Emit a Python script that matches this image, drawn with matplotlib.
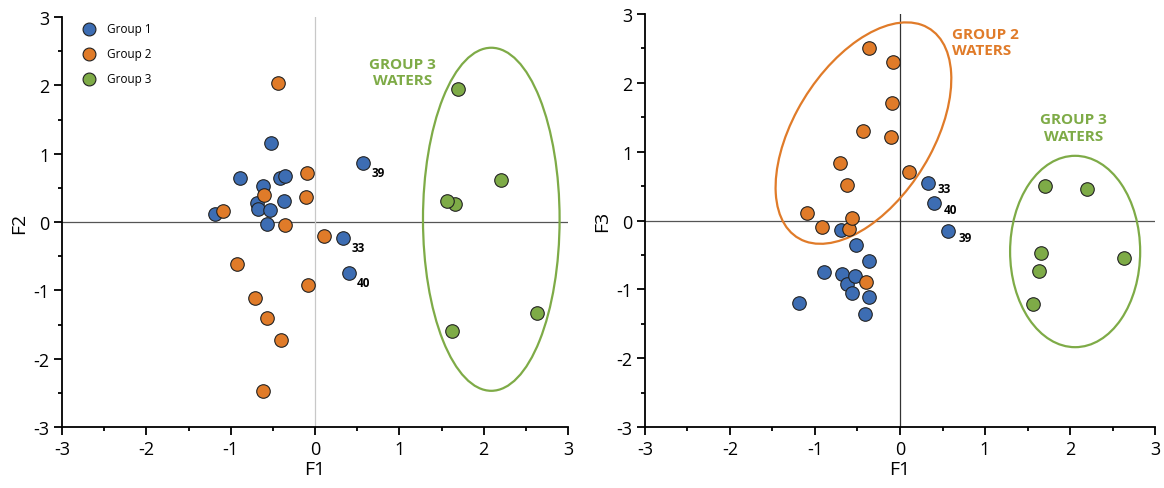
import matplotlib
matplotlib.use("Agg")
from matplotlib import pyplot as plt
from matplotlib.patches import Ellipse
from matplotlib.ticker import MultipleLocator

plt.rcParams['font.family'] = ['Open Sans', 'DejaVu Sans']
plt.rcParams['axes.unicode_minus'] = False

# factor scores per group (F1, F2, F3)
g1_f1 = [-1.19, -0.89, -0.69, -0.68, -0.62, -0.57, -0.53, -0.52, -0.41, -0.37, -0.36, 0.33, 0.40, 0.57]
g1_f2 = [0.12, 0.65, 0.28, 0.19, 0.53, -0.03, 0.18, 1.16, 0.64, 0.31, 0.67, -0.24, -0.75, 0.86]
g1_f3 = [-1.20, -0.75, -0.14, -0.78, -0.92, -1.06, -0.80, -0.36, -1.36, -1.11, -0.59, 0.55, 0.25, -0.15]

g2_f1 = [-1.09, -0.92, -0.71, -0.62, -0.60, -0.57, -0.44, -0.40, -0.36, -0.11, -0.10, -0.08, 0.11]
g2_f2 = [0.16, -0.62, -1.11, -2.47, 0.40, -1.40, 2.03, -1.73, -0.05, 0.37, 0.72, -0.92, -0.21]
g2_f3 = [0.11, -0.09, 0.84, 0.51, -0.13, 0.03, 1.30, -0.90, 2.50, 1.21, 1.71, 2.31, 0.70]

g3_f1 = [1.70, 2.20, 1.66, 2.63, 1.63, 1.57]
g3_f2 = [1.95, 0.62, 0.27, -1.33, -1.59, 0.31]
g3_f3 = [0.50, 0.46, -0.47, -0.54, -0.74, -1.22]

# labelled samples (index into group 1)
labelled = {"33": 11, "40": 12, "39": 13}

blue = "#3d6db3"
orange = "#e07b29"
green = "#7eab47"

fig = plt.figure(figsize=(11.64, 4.89), dpi=100)
axL = fig.add_axes([0.0533, 0.1247, 0.4347, 0.8385])
axR = fig.add_axes([0.5541, 0.1247, 0.4382, 0.8446])


def style(ax, ylabel, zero_v_color):
    ax.set_xlim(-3, 3)
    ax.set_ylim(-3, 3)
    ax.spines['top'].set_visible(False)
    ax.spines['right'].set_visible(False)
    ax.spines['left'].set_linewidth(1.3)
    ax.spines['bottom'].set_linewidth(1.3)
    ax.xaxis.set_major_locator(MultipleLocator(1))
    ax.xaxis.set_minor_locator(MultipleLocator(0.5))
    ax.yaxis.set_major_locator(MultipleLocator(1))
    ax.yaxis.set_minor_locator(MultipleLocator(0.5))
    ax.tick_params(which='major', length=6, width=1.3, labelsize=13, pad=3)
    ax.tick_params(which='minor', length=3, width=1.3)
    ax.set_xlabel("F1", fontsize=14, labelpad=2)
    ax.set_ylabel(ylabel, fontsize=14, labelpad=4)
    ax.axhline(0, color="#555555", lw=0.9, zorder=1)
    ax.axvline(0, color=zero_v_color, lw=0.9, zorder=1)


style(axL, "F2", "#c8c8c8")
style(axR, "F3", "#333333")

kw = dict(s=95, edgecolors="#222222", linewidths=0.8, zorder=3)

# left panel: F1 vs F2
axL.scatter(g1_f1, g1_f2, color=blue, label="Group 1", **kw)
axL.scatter(g2_f1, g2_f2, color=orange, label="Group 2", **kw)
axL.scatter(g3_f1, g3_f2, color=green, label="Group 3", **kw)
axL.add_patch(Ellipse((2.09, 0.04), 1.62, 5.02, fill=False, ec=green, lw=1.6, zorder=2))
axL.text(1.04, 2.2, "GROUP 3\nWATERS", color=green, fontsize=11, fontweight='bold',
         ha='center', va='center', linespacing=1.2)
for name, i in labelled.items():
    axL.annotate(name, (g1_f1[i], g1_f2[i]), xytext=(6, -6.5), textcoords='offset points',
                 fontsize=8.5, fontweight='bold', ha='left', va='center')

leg = axL.legend(loc='upper left', frameon=False, fontsize=8.5, handletextpad=0.6,
                 labelspacing=1.0, borderaxespad=0.2, bbox_to_anchor=(0.015, 1.005),
                 markerscale=0.95)

# right panel: F1 vs F3
axR.scatter(g1_f1, g1_f3, color=blue, **kw)
axR.scatter(g2_f1, g2_f3, color=orange, **kw)
axR.scatter(g3_f1, g3_f3, color=green, **kw)
axR.add_patch(Ellipse((-0.43, 1.27), 3.43, 1.69, angle=66.5, fill=False, ec=orange, lw=1.6, zorder=2))
axR.add_patch(Ellipse((2.06, -0.45), 1.53, 2.78, fill=False, ec=green, lw=1.6, zorder=2))
axR.text(0.61, 2.59, "GROUP 2\nWATERS", color=orange, fontsize=11, fontweight='bold',
         ha='left', va='center', linespacing=1.2)
axR.text(2.04, 1.35, "GROUP 3\nWATERS", color=green, fontsize=11, fontweight='bold',
         ha='center', va='center', linespacing=1.2)
for name, i in labelled.items():
    axR.annotate(name, (g1_f1[i], g1_f3[i]), xytext=(7, -4.5), textcoords='offset points',
                 fontsize=8.5, fontweight='bold', ha='left', va='center')

fig.savefig("out.png", dpi=100)
